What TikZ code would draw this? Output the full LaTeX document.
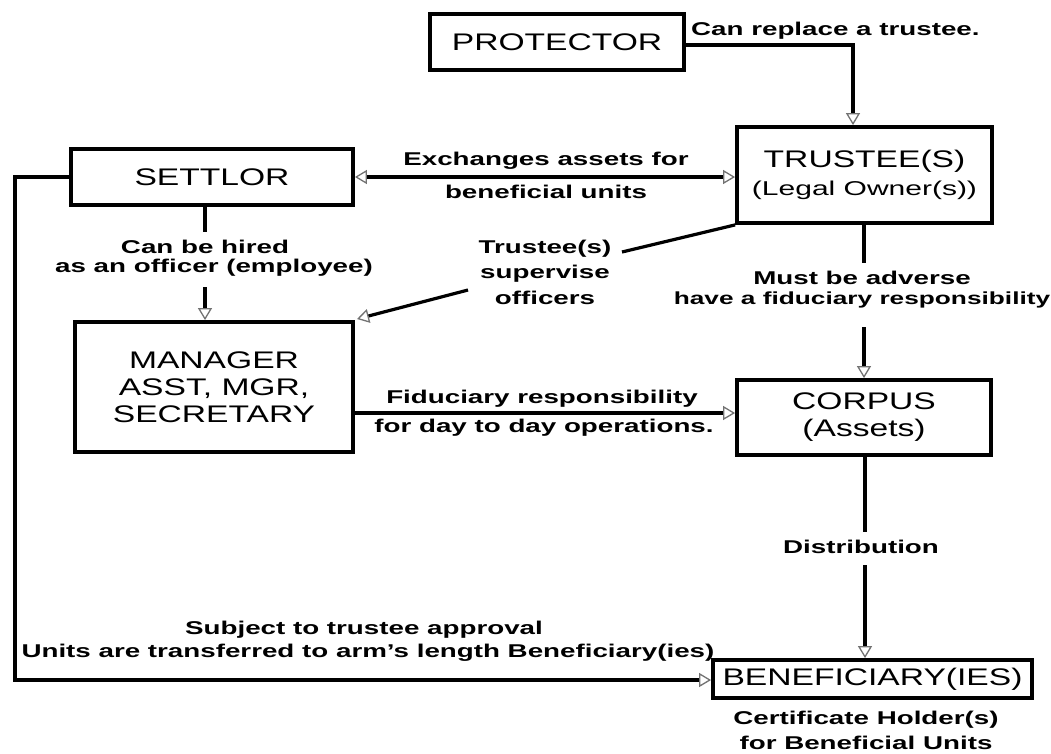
\documentclass[tikz,border=0pt]{standalone}
\usepackage{fontspec}
\setmainfont{Liberation Sans}[FakeStretch=1.4]
\newfontfamily\widefam{Liberation Sans}[FakeStretch=1.5]
\usetikzlibrary{arrows.meta}

% text sizes for boxes and connector labels
\newcommand\boxtext{\fontsize{24}{27}\selectfont}
\newcommand\subtext{\widefam\fontsize{20}{22}\selectfont}
\newcommand\lbltext{\widefam\fontsize{18.5}{22}\selectfont\bfseries}

\begin{document}
\begin{tikzpicture}[x=1pt,y=-1pt,
  box/.style={draw,line width=3.8pt,inner sep=0pt,align=center,font=\boxtext},
  lbl/.style={inner sep=0pt,align=center,font=\lbltext},
  wire/.style={line width=3.2pt},
  hollow/.tip={Triangle[length=12pt,width=14pt,line width=1.3pt,color=black!55,fill=white]},
  arr/.style={wire,-hollow},
  darr/.style={wire,hollow-hollow}]
\useasboundingbox (0,0) rectangle (1051,753);

% boxes
\node[box,minimum width=254pt,minimum height=56pt] (protector) at (557,42) {PROTECTOR};
\node[box,minimum width=282pt,minimum height=56pt] (settlor) at (212,177) {SETTLOR};
\node[box,minimum width=255pt,minimum height=96pt] (trustee) at (864.5,175)
  {TRUSTEE(S)\\[1pt]{\subtext (Legal Owner(s))}};
\node[box,minimum width=278pt,minimum height=130pt] (manager) at (214,387)
  {MANAGER\\ASST, MGR,\\SECRETARY};
\node[box,minimum width=254pt,minimum height=75pt] (corpus) at (864,417.5)
  {CORPUS\\(Assets)};
\node[box,minimum width=319pt,minimum height=38pt] (beneficiary) at (872.5,679)
  {BENEFICIARY(IES)};

% bend and break points of the connectors
\coordinate (pbend) at (853,45);
\coordinate (lc1) at (15,177);
\coordinate (lc2) at (15,680);
\coordinate (h1) at (205,232);
\coordinate (h2) at (205,287);
\coordinate (d1) at (622,252);
\coordinate (d2) at (468,290);
\coordinate (dtip) at (357,319);
\coordinate (t1) at (864,263);
\coordinate (t2) at (864,327);
\coordinate (m1) at (353,413);
\coordinate (c1) at (865,532);
\coordinate (c2) at (865,565);

% connectors
\draw[arr] (protector.east |- pbend) -- (pbend) -- (trustee.north -| pbend);
\draw[darr] (settlor.east) -- (settlor.east -| trustee.west);
\draw[arr] (settlor.west) -- (lc1) -- (lc2) -- (lc2 -| beneficiary.west);
\draw[wire] (settlor.south -| h1) -- (h1);
\draw[arr] (h2) -- (manager.north -| h2);
\draw[wire] (trustee.south west) -- (d1);
\draw[arr] (d2) -- (dtip);
\draw[wire] (trustee.south -| t1) -- (t1);
\draw[arr] (t2) -- (corpus.north -| t2);
\draw[arr] (manager.east |- m1) -- (corpus.west |- m1);
\draw[wire] (corpus.south -| c1) -- (c1);
\draw[arr] (c2) -- (beneficiary.north -| c2);

% labels
\node[lbl,anchor=west] (replace) at (691,31) {Can replace a trustee.};
\node[lbl] (exch1) at (546,161) {Exchanges assets for};
\node[lbl] (exch2) at (546,192) {beneficial units};
\node[lbl] (hire1) at (205,247) {Can be hired};
\node[lbl] (hire2) at (214,268) {as an officer (employee)};
\node[lbl] (sup1) at (545,249) {Trustee(s)};
\node[lbl] (sup2) at (545,274) {supervise};
\node[lbl] (sup3) at (545,298) {officers};
\node[lbl] (adv1) at (862,278) {Must be adverse};
\node[lbl,font=\widefam\fontsize{17.5}{21}\selectfont\bfseries] (adv2) at (862,300)
  {have a fiduciary responsibility};
\node[lbl] (fid1) at (542,399) {Fiduciary responsibility};
\node[lbl] (fid2) at (544,428) {for day to day operations.};
\node[lbl] (dist) at (861,547) {Distribution};
\node[lbl] (sub1) at (364,630) {Subject to trustee approval};
\node[lbl] (sub2) at (368,653) {Units are transferred to arm’s length Beneficiary(ies)};
\node[lbl] (cert1) at (866,720) {Certificate Holder(s)};
\node[lbl] (cert2) at (866,743) {for Beneficial Units};
\end{tikzpicture}
\end{document}
